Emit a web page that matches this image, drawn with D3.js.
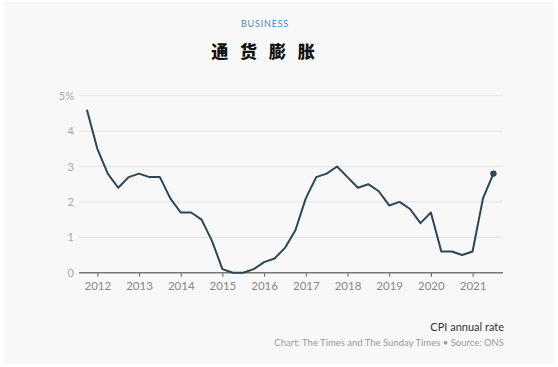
<!DOCTYPE html>
<html><head><meta charset="utf-8">
<script src="https://cdn.jsdelivr.net/npm/d3@7"></script>
<style>
html,body{margin:0;padding:0;background:#fff;}
svg{display:block;}
</style></head>
<body>
<svg id="c" width="558" height="367"></svg>
<script>
const quarters = [
 "2011 Q4",
 "2012 Q1","2012 Q2","2012 Q3","2012 Q4",
 "2013 Q1","2013 Q2","2013 Q3","2013 Q4",
 "2014 Q1","2014 Q2","2014 Q3","2014 Q4",
 "2015 Q1","2015 Q2","2015 Q3","2015 Q4",
 "2016 Q1","2016 Q2","2016 Q3","2016 Q4",
 "2017 Q1","2017 Q2","2017 Q3","2017 Q4",
 "2018 Q1","2018 Q2","2018 Q3","2018 Q4",
 "2019 Q1","2019 Q2","2019 Q3","2019 Q4",
 "2020 Q1","2020 Q2","2020 Q3","2020 Q4",
 "2021 Q1","2021 Q2","2021 Q3"
];
const cpi = [
 4.6,
 3.5,2.8,2.4,2.7,
 2.8,2.7,2.7,2.1,
 1.7,1.7,1.5,0.9,
 0.1,0.0,0.0,0.1,
 0.3,0.4,0.7,1.2,
 2.1,2.7,2.8,3.0,
 2.7,2.4,2.5,2.3,
 1.9,2.0,1.8,1.4,
 1.7,0.6,0.6,0.5,
 0.6,2.1,2.8
];
const yTicks = [0,1,2,3,4,5];
const yTickLabels = ["0","1","2","3","4","5%"];
const xTicks = [2012,2013,2014,2015,2016,2017,2018,2019,2020,2021];

function qToYear(q){ const [y,qq]=q.split(" Q"); return +y + (+qq-1)/4; }

const svg = d3.select("#c");
svg.append("rect").attr("x",4).attr("y",2).attr("width",550).attr("height",362).attr("fill","#f8f8f8");

const x = d3.scaleLinear().domain([2011.56, 2021.73]).range([79, 503]);
const y = d3.scaleLinear().domain([0,5]).range([272.7, 95.7]);

// title
svg.append("text").attr("x",265).attr("y",27).attr("text-anchor","middle")
  .attr("font-family","Lato, 'Open Sans', sans-serif").attr("font-size",9).attr("letter-spacing",0.8)
  .attr("fill","#4f87b0").text("BUSINESS");
svg.append("text").attr("x",265).attr("y",58).attr("text-anchor","middle")
  .attr("font-family","'Noto Sans CJK SC', sans-serif").attr("font-weight",900).attr("font-size",17)
  .attr("letter-spacing",4).attr("fill","#111").text("通 货 膨 胀");

// grid
svg.append("g").selectAll("line").data(yTicks.filter(d=>d>0)).join("line")
  .attr("x1",79).attr("x2",503).attr("y1",d=>y(d)).attr("y2",d=>y(d))
  .attr("stroke","#e4e4e4").attr("stroke-width",1);

// y labels
svg.append("g").selectAll("text").data(yTicks).join("text")
  .attr("x",74).attr("y",d=>y(d)+4).attr("text-anchor","end")
  .attr("font-family","Lato, sans-serif").attr("font-size",11).attr("fill","#a8a8a8")
  .text((d,i)=>yTickLabels[i]);

// x axis
const xAxis = d3.axisBottom(x).tickValues(xTicks).tickFormat(d3.format("d")).tickSize(4).tickPadding(5);
const gx = svg.append("g").attr("transform",`translate(0,${y(0)})`).call(xAxis);
gx.select(".domain").attr("stroke","#777").attr("stroke-width",1.5).attr("d","M79,0H503");
gx.selectAll(".tick line").attr("stroke","#777").attr("stroke-width",1.2);
gx.selectAll(".tick text").attr("font-family","Lato, sans-serif").attr("font-size",11.5).attr("fill","#8f8580");

// line
const pts = quarters.map((q,i)=>({t:qToYear(q), v:cpi[i]}));
svg.append("path").datum(pts)
  .attr("d", d3.line().x(d=>x(d.t)).y(d=>y(d.v)))
  .attr("fill","none").attr("stroke","#2b4655").attr("stroke-width",2).attr("stroke-linejoin","round");
const last = pts[pts.length-1];
svg.append("circle").attr("cx",x(last.t)).attr("cy",y(last.v)).attr("r",3.2).attr("fill","#2b4655");

// footer
svg.append("text").attr("x",504).attr("y",331).attr("text-anchor","end")
  .attr("font-family","Lato, sans-serif").attr("font-size",11).attr("fill","#333").text("CPI annual rate");
svg.append("text").attr("x",504).attr("y",346).attr("text-anchor","end")
  .attr("font-family","Lato, sans-serif").attr("font-size",9.5).attr("fill","#9a9a9a")
  .text("Chart: The Times and The Sunday Times • Source: ONS");
</script>
</body></html>
